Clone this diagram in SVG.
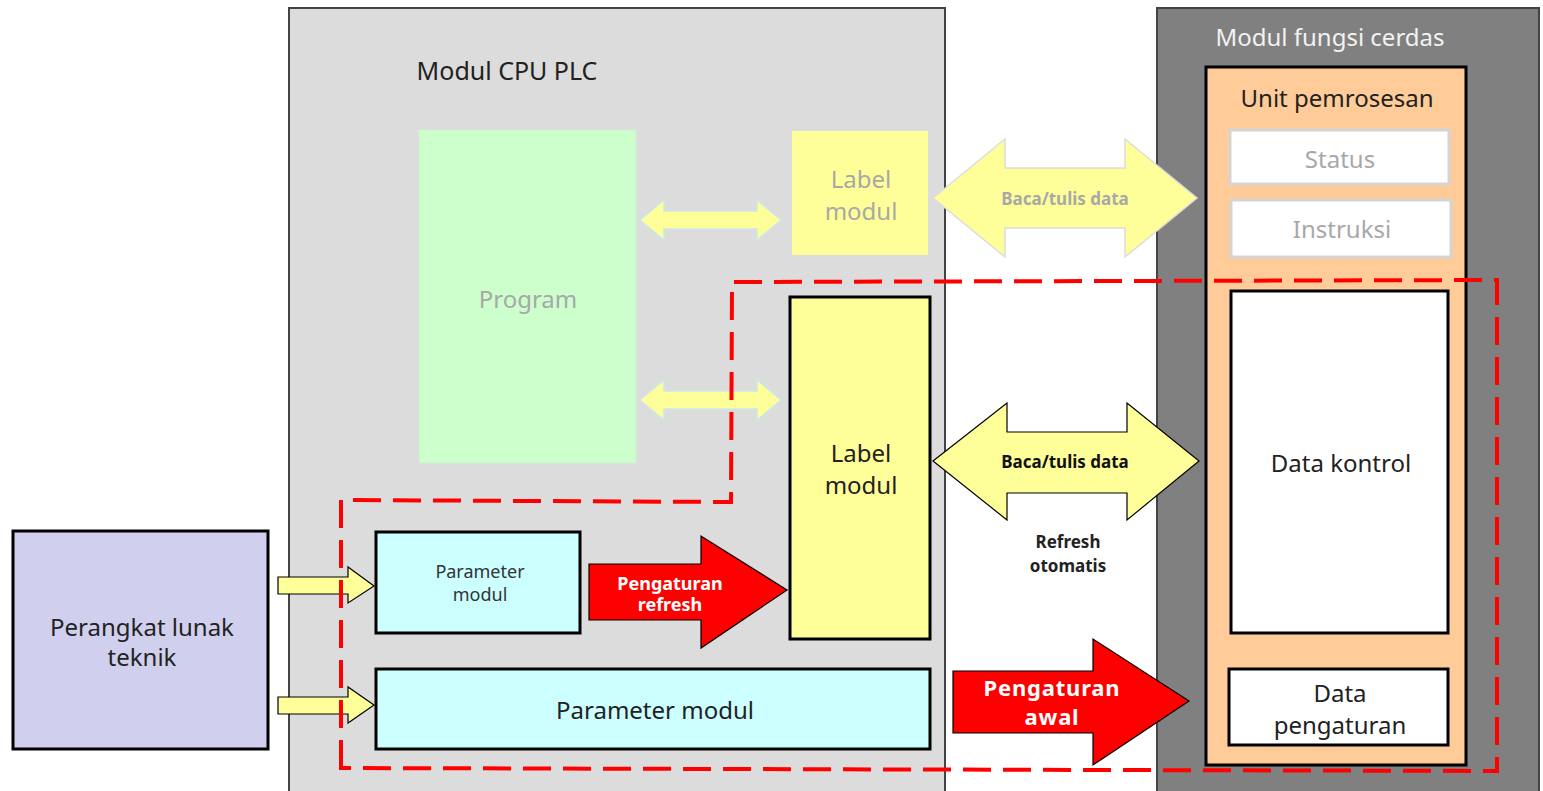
<svg xmlns="http://www.w3.org/2000/svg" width="1543" height="791" viewBox="0 0 1543 791">
<style>
text{font-family:"Noto Sans","Open Sans","Liberation Sans",sans-serif;text-anchor:middle;dominant-baseline:central}
.t24{font-size:24px;fill:#222}
.t18{font-size:18px;fill:#333}
.faded{fill:#a8a8a8}
.bold{font-weight:bold}
.blk{stroke:#000;stroke-width:3}
.ya{fill:#ffff99;stroke:#000;stroke-width:1.2}
.yf{fill:#ffff99;stroke:#cce8e8;stroke-width:1.5}
.red{fill:#ff0000;stroke:#000;stroke-width:1.2}
.wt{fill:#fff;font-weight:bold}
</style>
<rect width="1543" height="791" fill="#fff"/>
<g id="cpu-module">
<rect x="289" y="8" width="656" height="790" fill="#dcdcdc" stroke="#444" stroke-width="2"/>
<text x="507" y="70" class="t24" style="font-size:25px">Modul CPU PLC</text>
</g>
<g id="smart-module">
<rect x="1157" y="8" width="382" height="790" fill="#808080" stroke="#444" stroke-width="2"/>
<text x="1330" y="36" class="t24" style="fill:#f2f2f2">Modul fungsi cerdas</text>
</g>
<g id="processing-unit">
<rect x="1206" y="67" width="260" height="698" fill="#ffcc99" class="blk"/>
<text x="1337" y="97" class="t24">Unit pemrosesan</text>
</g>
<g id="status">
<rect x="1230" y="130" width="219" height="54" fill="#fff" stroke="#d4d4d4" stroke-width="3"/>
<text x="1340" y="158" class="t24 faded">Status</text>
</g>
<g id="instruksi">
<rect x="1231" y="200" width="220" height="57" fill="#fff" stroke="#d4d4d4" stroke-width="3"/>
<text x="1342" y="228" class="t24 faded">Instruksi</text>
</g>
<g id="data-kontrol">
<rect x="1231" y="291" width="217" height="342" fill="#fff" class="blk"/>
<text x="1341" y="462" class="t24">Data kontrol</text>
</g>
<g id="data-pengaturan">
<rect x="1229" y="669" width="219" height="76" fill="#fff" class="blk"/>
<text x="1340" y="692" class="t24">Data</text>
<text x="1340" y="724" class="t24">pengaturan</text>
</g>
<g id="program">
<rect x="419" y="130" width="217" height="333" fill="#ccffcc" stroke="#d4ecd4" stroke-width="1"/>
<text x="528" y="298" class="t24 faded">Program</text>
</g>
<g id="label-modul-faded">
<rect x="792" y="131" width="136" height="124" fill="#ffff99"/>
<text x="861" y="178" class="t24 faded">Label</text>
<text x="861" y="210" class="t24 faded">modul</text>
</g>
<g id="label-modul">
<rect x="790" y="297" width="140" height="342" fill="#ffff99" class="blk"/>
<text x="861" y="452" class="t24">Label</text>
<text x="861" y="484" class="t24">modul</text>
</g>
<g id="parameter-modul-small">
<rect x="376" y="532" width="204" height="101" fill="#ccffff" class="blk"/>
<text x="480" y="571" class="t18">Parameter</text>
<text x="480" y="594" class="t18">modul</text>
</g>
<g id="parameter-modul">
<rect x="376" y="669" width="554" height="80" fill="#ccffff" class="blk"/>
<text x="655" y="709" class="t24">Parameter modul</text>
</g>
<g id="perangkat-lunak">
<rect x="13" y="531" width="255" height="218" fill="#d0d0ee" class="blk"/>
<text x="142" y="626" class="t24">Perangkat lunak</text>
<text x="142" y="656" class="t24">teknik</text>
</g>
<g id="connectors">
<polygon class="yf" points="640,220 664,200 664,211 757,211 757,200 781,220 757,240 757,229 664,229 664,240"/>
<polygon class="yf" points="640,400 664,380 664,391 757,391 757,380 781,400 757,420 757,409 664,409 664,420"/>
<polygon fill="#ffff99" stroke="#dcdcdc" stroke-width="1.5" points="933,198 1005,139 1005,168 1125,168 1125,139 1197,198 1125,257 1125,228 1005,228 1005,257"/>
<text x="1065" y="198" class="bold faded" style="font-size:17px">Baca/tulis data</text>
<polygon class="ya" points="933,461 1007,403 1007,432 1127,432 1127,403 1199,461 1127,520 1127,493 1007,493 1007,520"/>
<text x="1065" y="461" class="bold" style="font-size:17px;fill:#111">Baca/tulis data</text>
<text x="1068" y="541" class="bold" style="font-size:17px;fill:#222">Refresh</text>
<text x="1068" y="565" class="bold" style="font-size:17px;fill:#222">otomatis</text>
<polygon class="red" points="589,564 701,564 701,536 787,590 701,648 701,620 589,620"/>
<text x="670" y="583" class="wt" style="font-size:18px">Pengaturan</text>
<text x="670" y="604" class="wt" style="font-size:18px">refresh</text>
<polygon class="red" points="953,671 1093,671 1093,639 1189,701 1093,765 1093,733 953,733"/>
<text x="1052" y="687" class="wt" style="font-size:22px;letter-spacing:0.8px">Pengaturan</text>
<text x="1052" y="716" class="wt" style="font-size:22px;letter-spacing:0.8px">awal</text>
<polygon class="ya" points="278,577 348,577 348,567 374,586 348,603 348,594 278,594"/>
<polygon class="ya" points="278,697 348,697 348,687 374,705 348,723 348,714 278,714"/>
<path d="M341,768 L341,500 L731,502 L732,282 L1497,280 L1497,771 L341,768 Z" fill="none" stroke="#ff0000" stroke-width="4" stroke-dasharray="28 12"/>
</g>
</svg>
